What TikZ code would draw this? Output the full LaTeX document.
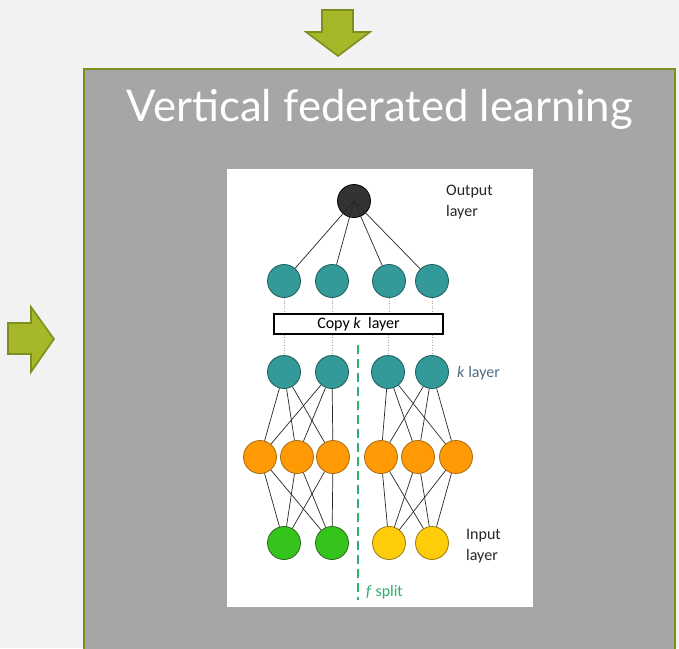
\documentclass[tikz,border=0pt]{standalone}
\usepackage{fontspec}
\setmainfont{Carlito}
\newfontfamily\titlefont{Lato}
\definecolor{bg}{HTML}{F2F2F2}
\definecolor{boxgray}{HTML}{A6A6A6}
\definecolor{olive}{HTML}{7D8F1C}
\definecolor{olivefill}{HTML}{A6B82A}
\definecolor{tealc}{HTML}{339999}
\definecolor{tealb}{HTML}{1E5C5C}
\definecolor{orangec}{HTML}{FF9A05}
\definecolor{orangeb}{HTML}{A86A10}
\definecolor{greenc}{HTML}{35C41C}
\definecolor{greenb}{HTML}{2A6A1A}
\definecolor{yellowc}{HTML}{FFCC0A}
\definecolor{yellowb}{HTML}{9A7A10}
\definecolor{darkc}{HTML}{333333}
\definecolor{splitc}{HTML}{2FAE6E}
\definecolor{klabel}{HTML}{4F6C82}
\usetikzlibrary{calc}
\begin{document}
\begin{tikzpicture}[x=1pt,y=-1pt,
  neuron/.style={circle,draw,line width=0.8pt,minimum size=33pt,inner sep=0pt},
  teal/.style={neuron,fill=tealc,draw=tealb},
  orng/.style={neuron,fill=orangec,draw=orangeb},
  grn/.style={neuron,fill=greenc,draw=greenb},
  yel/.style={neuron,fill=yellowc,draw=yellowb},
  outn/.style={neuron,fill=darkc,draw=black},
  link/.style={draw=black!85,line width=0.7pt},
  dotlink/.style={draw=black!35,dotted,line width=0.6pt},
  bigarrow/.style={fill=olivefill,draw=olive,line width=1.6pt,line join=miter},
  lbl/.style={font=\fontsize{16}{21}\selectfont,align=left,anchor=west,inner sep=0pt,text=black!85}]
\useasboundingbox (0,0) rectangle (679,648);
\fill[bg] (0,0) rectangle (679,648);
\begin{scope}
\clip (0,0) rectangle (679,648);
\draw[fill=boxgray,draw=olive,line width=2.5pt] (84,69) rectangle (675,670);
\end{scope}
% arrows
\draw[bigarrow] (322,10) -- (353,10) -- (353,32) -- (370,32) -- (338,56) -- (306,32) -- (322,32) -- cycle;
\draw[bigarrow] (8,323) -- (31,323) -- (31,307) -- (54,339) -- (31,372) -- (31,354) -- (8,354) -- cycle;
% title
\node[anchor=base,text=white,inner sep=0pt] (title) at (380,121)
  {\resizebox{506pt}{!}{\titlefont\fontsize{40}{48}\selectfont Vertical federated learning}};
% white image panel
\fill[white] (227,169) rectangle (533,607);
% nodes
\node[outn] (out) at (354,201) {};
\foreach \x [count=\i] in {284,332,389,432} \node[teal] (t\i) at (\x,281) {};
\node[draw=black,line width=1.3pt,fill=white,minimum width=169pt,minimum height=20pt,inner sep=0pt,
  font=\fontsize{16}{18}\selectfont] (copy) at (358.5,324) {Copy \textit{k}\ \ layer};
\foreach \x [count=\i] in {284,332,388,432} \node[teal] (k\i) at (\x,372) {};
\foreach \x [count=\i] in {260,297,333,381,418,456} \node[orng] (o\i) at (\x,457) {};
\node[grn] (g1) at (284,543) {};
\node[grn] (g2) at (332,543) {};
\node[yel] (y1) at (389,543) {};
\node[yel] (y2) at (432,543) {};
% connections
\foreach \i in {1,...,4} {
  \draw[link] (out.center) -- (t\i);
  \draw[dotlink] (t\i.south) -- (t\i.south |- copy.north);
  \draw[dotlink] (k\i.north |- copy.south) -- (k\i.north);
}
\foreach \a in {1,2} \foreach \b in {1,2,3} \draw[link] (k\a) -- (o\b);
\foreach \a in {3,4} \foreach \b in {4,5,6} \draw[link] (k\a) -- (o\b);
\foreach \a in {1,2,3} {\draw[link] (o\a) -- (g1); \draw[link] (o\a) -- (g2);}
\foreach \a in {4,5,6} {\draw[link] (o\a) -- (y1); \draw[link] (o\a) -- (y2);}
% split line
\coordinate (dtop) at (358,345);
\coordinate (dbot) at (358,600);
\draw[splitc,line width=2.6pt,dash pattern=on 9pt off 5pt] (dtop) -- (dbot);
% labels
\node[lbl] (outlbl) at (446,202) {Output\\layer};
\node[lbl,text=klabel] (klbl) at (457,373) {\textit{k} layer};
\node[lbl] (inlbl) at (466,546) {Input\\layer};
\node[lbl,text=splitc] (split) at (366,592) {\textit{f} split};
\end{tikzpicture}
\end{document}
